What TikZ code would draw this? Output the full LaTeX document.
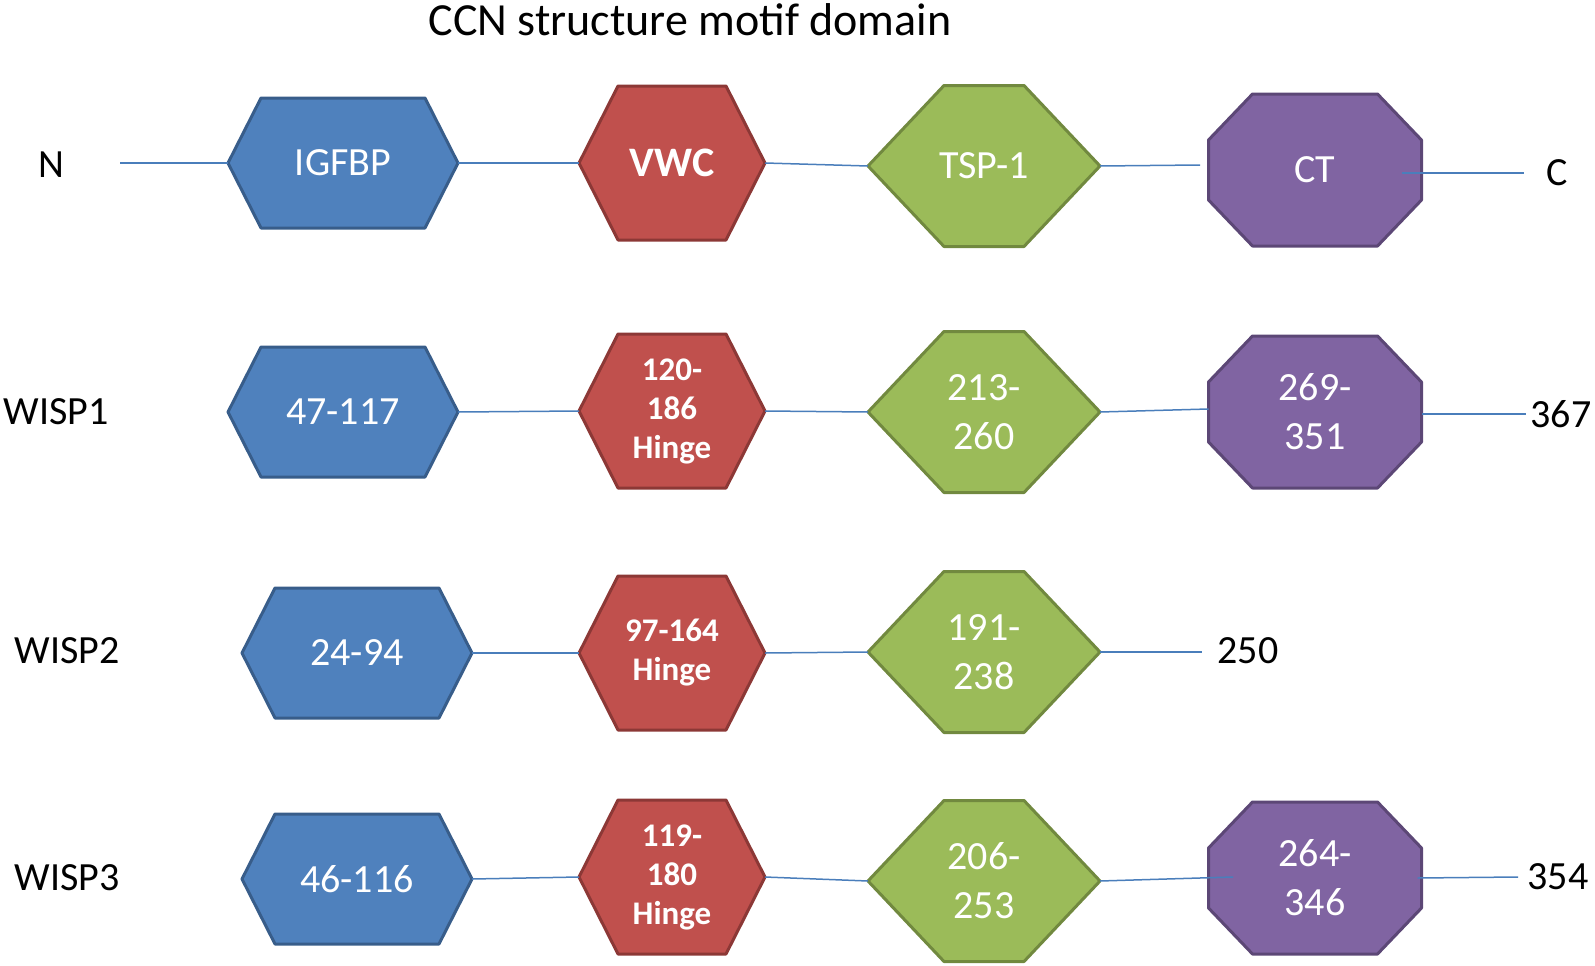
\documentclass[tikz,border=0pt]{standalone}
\usepackage{fontspec}
\setmainfont{Carlito}
\usepackage{xcolor}
\usetikzlibrary{backgrounds}

\definecolor{igfbpfill}{HTML}{4F81BD}
\definecolor{igfbpline}{HTML}{385D8A}
\definecolor{vwcfill}{HTML}{C0504D}
\definecolor{vwcline}{HTML}{8C3836}
\definecolor{tspfill}{HTML}{9BBB59}
\definecolor{tspline}{HTML}{71893F}
\definecolor{ctfill}{HTML}{8064A2}
\definecolor{ctline}{HTML}{5C4776}
\definecolor{linkblue}{HTML}{4A7EBB}

\begin{document}
\begin{tikzpicture}[x=1pt,y=-1pt,
  dom/.style={inner sep=0pt, outer sep=0pt, text=white, align=center, font=\fontsize{40}{49}\selectfont},
  igfbp/.style={dom, minimum width=230pt, minimum height=130pt},
  vwc/.style={dom, minimum width=186pt, minimum height=154pt, font=\fontsize{33}{39}\selectfont\bfseries},
  tsp/.style={dom, minimum width=232pt, minimum height=161pt},
  ctbox/.style={dom, minimum width=213pt, minimum height=152pt},
  lbl/.style={font=\fontsize{40}{48}\selectfont},
  link/.style={draw=linkblue, line width=1.5pt},
  rim/.style={line width=3pt, line join=round}]
\useasboundingbox (0,0) rectangle (1595,966);

\node[font=\fontsize{46}{55}\selectfont] (title) at (690,20) {CCN structure motif domain};

% consensus
\node[lbl] (n) at (51,165) {N};
\coordinate (nstart) at (120,163);
\node[igfbp] (b0) at (343,163) {IGFBP};
\node[vwc, font=\fontsize{42}{50}\selectfont\bfseries] (r0) at (672,163) {VWC};
\node[tsp] (g0) at (984,166) {TSP-1};
\coordinate (t0) at (1200,165);
\node[ctbox] (p0) at (1315,170) {CT};
\coordinate (e0) at (1524,173);
\node[lbl] (c) at (1557,173) {C};

% WISP1
\node[lbl] (w1) at (56,412) {WISP1};
\node[igfbp] (b1) at (343,412) {47-117};
\node[vwc] (r1) at (672,411) {120-\\186\\Hinge};
\node[tsp] (g1) at (984,412) {213-\\260};
\node[ctbox] (p1) at (1315,412) {269-\\351};
\coordinate (e1) at (1526,414);
\node[lbl] (l1) at (1561,414) {367};

% WISP2
\node[lbl] (w2) at (67,651) {WISP2};
\node[igfbp] (b2) at (357,653) {24-94};
\node[vwc] (r2) at (672,653) {97-164\\Hinge};
\node[tsp] (g2) at (984,652) {191-\\238};
\coordinate (e2) at (1202,652);
\node[lbl] (l2) at (1248,651) {250};

% WISP3
\node[lbl] (w3) at (67,878) {WISP3};
\node[igfbp] (b3) at (357,879) {46-116};
\node[vwc] (r3) at (672,877) {119-\\180\\Hinge};
\node[tsp] (g3) at (984,881) {206-\\253};
\coordinate (t3) at (1233,877);
\node[ctbox] (p3) at (1315,878) {264-\\346};
\coordinate (e3) at (1518,877);
\node[lbl] (l3) at (1558,877) {354};

\begin{scope}[on background layer]
\foreach \n in {b0,b1,b2,b3}
  \filldraw[rim, fill=igfbpfill, draw=igfbpline] (\n.west) -- ([xshift=33pt]\n.north west) -- ([xshift=-33pt]\n.north east)
    -- (\n.east) -- ([xshift=-33pt]\n.south east) -- ([xshift=33pt]\n.south west) -- cycle;
\foreach \n in {r0,r1,r2,r3}
  \filldraw[rim, fill=vwcfill, draw=vwcline] (\n.west) -- ([xshift=39pt]\n.north west) -- ([xshift=-39pt]\n.north east)
    -- (\n.east) -- ([xshift=-39pt]\n.south east) -- ([xshift=39pt]\n.south west) -- cycle;
\foreach \n in {g0,g1,g2,g3}
  \filldraw[rim, fill=tspfill, draw=tspline] (\n.west) -- ([xshift=76pt]\n.north west) -- ([xshift=-76pt]\n.north east)
    -- (\n.east) -- ([xshift=-76pt]\n.south east) -- ([xshift=76pt]\n.south west) -- cycle;
\foreach \n in {p0,p1,p3}
  \filldraw[rim, fill=ctfill, draw=ctline] ([xshift=44pt]\n.north west) -- ([xshift=-44pt]\n.north east)
    -- ([yshift=-46pt]\n.north east) -- ([yshift=46pt]\n.south east) -- ([xshift=-44pt]\n.south east)
    -- ([xshift=44pt]\n.south west) -- ([yshift=46pt]\n.south west) -- ([yshift=-46pt]\n.north west) -- cycle;
\end{scope}

\draw[link] (nstart) -- (b0.west);
\draw[link] (b0.east) -- (r0.west);
\draw[link] (r0.east) -- (g0.west);
\draw[link] (g0.east) -- (t0);
\draw[link] ([xshift=-20pt,yshift=-3pt]p0.east) -- (e0);

\draw[link] (b1.east) -- (r1.west);
\draw[link] (r1.east) -- (g1.west);
\draw[link] (g1.east) -- ([yshift=3pt]p1.west);
\draw[link] ([yshift=-2pt]p1.east) -- (e1);

\draw[link] (b2.east) -- (r2.west);
\draw[link] (r2.east) -- (g2.west);
\draw[link] (g2.east) -- (e2);

\draw[link] (b3.east) -- (r3.west);
\draw[link] (r3.east) -- (g3.west);
\draw[link] (g3.east) -- (t3);
\draw[link] ([xshift=-4pt]p3.east) -- (e3);
\end{tikzpicture}
\end{document}
